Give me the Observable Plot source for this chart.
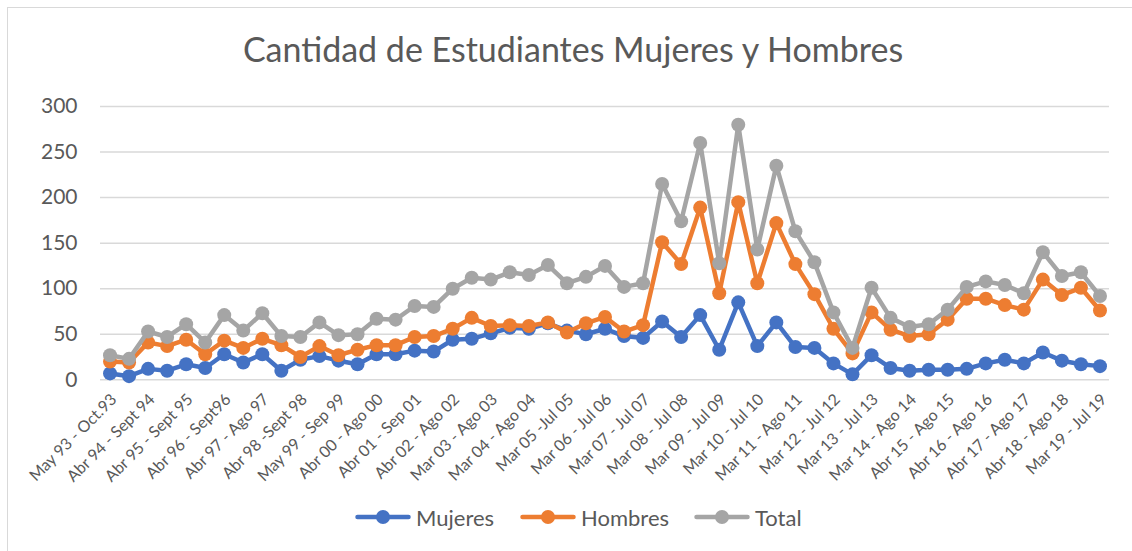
<!DOCTYPE html>
<html>
<head>
<meta charset="utf-8">
<script src="https://cdn.jsdelivr.net/npm/d3@7"></script>
<script src="https://cdn.jsdelivr.net/npm/@observablehq/plot@0.6"></script>
<style>
  body { margin: 0; background: #fff; }
  #wrap { position: relative; width: 1132px; height: 551px; overflow: hidden; font-family: Lato, "Open Sans", sans-serif; color: #595959; }
  #border { position: absolute; left: 7px; top: 7px; width: 1150px; height: 570px; border: 1.5px solid #d9d9d9; box-sizing: border-box; }
  #title { position: absolute; left: 0; top: 29px; width: 1146px; text-align: center; font-size: 34px; line-height: 40px; white-space: nowrap; }
  #chart { position: absolute; left: 0; top: 90px; }
  .leg { position: absolute; top: 503px; height: 28px; display: flex; align-items: center; font-size: 22px; white-space: nowrap; }
  .leg svg { margin-right: 5px; }
</style>
</head>
<body>
<div id="wrap">
  <div id="border"></div>
  <div id="title">Cantidad de Estudiantes Mujeres y Hombres</div>
  <div id="chart"></div>
  <div id="legend"></div>
</div>
<script>
const tickLabels = [
  "May 93 - Oct.93", "Abr 94 - Sept 94", "Abr 95 - Sept 95", "Abr 96 - Sept96",
  "Abr 97 - Ago 97", "Abr 98 -Sept 98", "May 99 - Sep 99", "Abr 00 - Ago 00",
  "Abr 01 - Sep 01", "Abr 02 - Ago 02", "Mar 03 - Ago 03", "Mar 04 - Ago 04",
  "Mar 05 -Jul 05", "Mar 06 - Jul 06", "Mar 07 - Jul 07", "Mar 08 - Jul 08",
  "Mar 09 - Jul 09", "Mar 10 - Jul 10", "Mar 11 - Ago 11", "Mar 12 - Jul 12",
  "Mar 13 - Jul 13", "Mar 14 - Ago 14", "Abr 15 - Ago 15", "Abr 16 - Ago 16",
  "Abr 17 - Ago 17", "Abr 18 - Ago 18", "Mar 19 - Jul 19"
];
const mujeres = [7, 4, 12, 10, 17, 13, 28, 19, 28, 10, 22, 26, 21, 17, 28, 28, 32, 31, 44, 45,
  51, 57, 56, 62, 54, 50, 56, 48, 46, 64, 47, 71, 33, 85, 37, 63, 36, 35, 18, 6,
  27, 13, 10, 11, 11, 12, 18, 22, 18, 30, 21, 17, 15];
const hombres = [20, 19, 41, 37, 44, 28, 43, 35, 45, 38, 25, 37, 27, 33, 38, 38, 47, 48, 56, 68,
  59, 60, 59, 63, 52, 62, 69, 53, 60, 151, 127, 189, 95, 195, 106, 172, 127, 94, 56, 29,
  74, 55, 48, 50, 66, 89, 89, 82, 77, 110, 93, 101, 76];
const total = [27, 23, 53, 47, 61, 41, 71, 54, 73, 48, 47, 63, 49, 50, 67, 66, 81, 80, 100, 112,
  110, 118, 115, 126, 106, 113, 125, 102, 106, 215, 174, 260, 128, 280, 143, 235, 163, 129, 74, 35,
  101, 68, 58, 61, 77, 102, 108, 104, 95, 140, 114, 118, 92];
const seriesNames = ["Mujeres", "Hombres", "Total"];
const seriesColors = ["#4472C4", "#ED7D31", "#A5A5A5"];
const yTicks = [0, 50, 100, 150, 200, 250, 300];

const seriesValues = [mujeres, hombres, total];
const seriesMarks = seriesValues.flatMap((vals, s) => {
  const rows = vals.map((v, i) => ({i, v}));
  return [
    Plot.line(rows, {x: "i", y: "v", stroke: seriesColors[s], strokeWidth: 4.5, strokeLinejoin: "round", strokeLinecap: "round"}),
    Plot.dot(rows, {x: "i", y: "v", fill: seriesColors[s], r: 7, stroke: "none"})
  ];
});

const labelRows = tickLabels.map((t, k) => ({i: k * 2, t}));

const chart = Plot.plot({
  width: 1132,
  height: 400,
  marginLeft: 100,
  marginRight: 23,
  marginTop: 16,
  marginBottom: 110.7,
  style: {fontFamily: "Lato, 'Open Sans', sans-serif", color: "#595959", background: "transparent"},
  x: {domain: [-0.5, 52.5], axis: null},
  y: {domain: [0, 300], axis: null},
  marks: [
    Plot.gridY(yTicks, {stroke: "#d9d9d9", strokeOpacity: 1, strokeWidth: 1.5}),
    Plot.axisY(yTicks, {tickSize: 0, tickPadding: 23, fontSize: 21, fill: "#595959", label: null}),
    Plot.text(labelRows, {x: "i", y: () => 0, text: "t", rotate: -45, textAnchor: "end", lineAnchor: "middle", dx: 4, dy: 17, fontSize: 16, fill: "#595959"}),
    ...seriesMarks
  ]
});
document.getElementById("chart").appendChild(chart);

const legendX = [355, 520, 694];
const legend = document.getElementById("legend");
seriesNames.forEach((name, s) => {
  const item = document.createElement("div");
  item.className = "leg";
  item.style.left = legendX[s] + "px";
  item.innerHTML = `<svg width="56" height="16"><line x1="2.5" y1="8" x2="53.5" y2="8" stroke="${seriesColors[s]}" stroke-width="4.5" stroke-linecap="round"/><circle cx="28" cy="8" r="7" fill="${seriesColors[s]}"/></svg><span>${name}</span>`;
  legend.appendChild(item);
});
</script>
</body>
</html>
